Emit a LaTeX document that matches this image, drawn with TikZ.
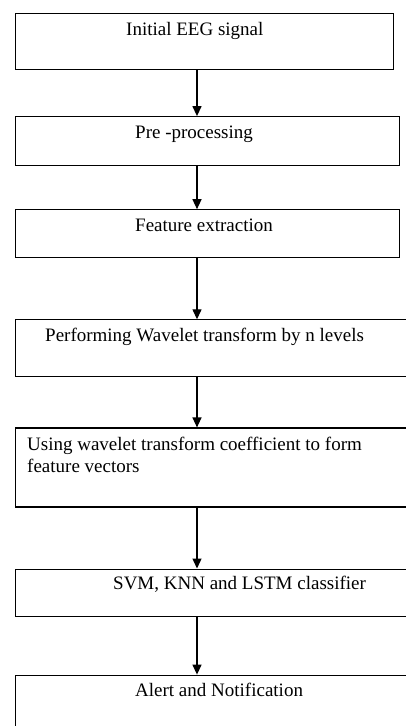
\documentclass[tikz,border=0pt]{standalone}
\usepackage{fontspec}
\setmainfont{Liberation Serif}
\usetikzlibrary{positioning}
\usetikzlibrary{arrows.meta}

\begin{document}
\begin{tikzpicture}[x=1pt, y=1pt,
    box/.style={draw, rectangle, line width=1.1pt, inner sep=0pt},
    txt/.style={inner sep=0pt, anchor=base west, align=left, font=\fontsize{19}{22}\selectfont},
    flow/.style={line width=1.3pt, -{Triangle[length=10pt, width=9pt]}}]
    \useasboundingbox (0,0) rectangle (406,-726);
    \clip (0,0) rectangle (406,-726);

    \node[box, minimum width=378pt, minimum height=56pt, anchor=north west] (s1) at (15,-13) {};
    \node[box, minimum width=384pt, minimum height=49pt, below=46pt of s1.south west, anchor=north west] (s2) {};
    \node[box, minimum width=384pt, minimum height=48pt, below=43pt of s2.south west, anchor=north west] (s3) {};
    \node[box, minimum width=395pt, minimum height=57pt, below=61pt of s3.south west, anchor=north west] (s4) {};
    \node[box, minimum width=395pt, minimum height=79pt, below=50pt of s4.south west, anchor=north west] (s5) {};
    \node[box, minimum width=395pt, minimum height=47pt, below=61pt of s5.south west, anchor=north west] (s6) {};
    \node[box, minimum width=395pt, minimum height=64pt, below=58pt of s6.south west, anchor=north west] (s7) {};

    \node[txt] (l1) at ([shift={(111,-22)}]s1.north west) {Initial EEG signal};
    \node[txt] (l2) at ([shift={(120,-22)}]s2.north west) {Pre -processing};
    \node[txt] (l3) at ([shift={(120,-22)}]s3.north west) {Feature extraction};
    \node[txt] (l4) at ([shift={(30,-22)}]s4.north west) {Performing Wavelet transform by n levels};
    \node[txt] (l5) at ([shift={(12,-45)}]s5.north west) {Using wavelet transform coefficient to form\\feature vectors};
    \node[txt] (l6) at ([shift={(98,-21)}]s6.north west) {SVM, KNN and LSTM classifier};
    \node[txt] (l7) at ([shift={(120,-22)}]s7.north west) {Alert and Notification};

    \coordinate (axis) at (197,0);
    \draw[flow] (s1.south -| axis) -- (s2.north -| axis);
    \draw[flow] (s2.south -| axis) -- (s3.north -| axis);
    \draw[flow] (s3.south -| axis) -- (s4.north -| axis);
    \draw[flow] (s4.south -| axis) -- (s5.north -| axis);
    \draw[flow] (s5.south -| axis) -- (s6.north -| axis);
    \draw[flow] (s6.south -| axis) -- (s7.north -| axis);
\end{tikzpicture}
\end{document}
